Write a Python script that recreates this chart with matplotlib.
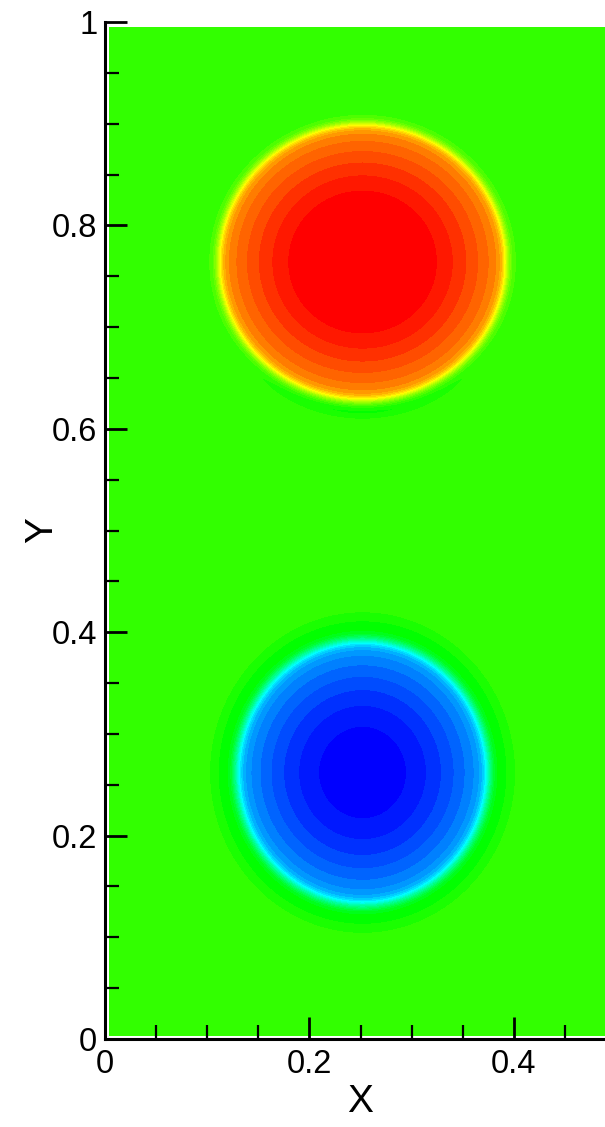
import numpy as np
import matplotlib
matplotlib.use("Agg")
import matplotlib.pyplot as plt
from matplotlib.colors import LinearSegmentedColormap, Normalize
from matplotlib.ticker import MultipleLocator

plt.rcParams['font.family'] = ['Liberation Sans', 'DejaVu Sans']

# Vortex pair parameters (domain units)
background_level = 0.55
vortex_centers = [(0.252, 0.764), (0.252, 0.262)]
vortex_radii = [(0.141, 0.136), (0.125, 0.132)]
vortex_edge_levels = [0.84, 0.18]      # value just inside the rim
vortex_core_gain = [0.20, -0.19]       # change from rim to centre
vortex_edge_width = [0.04, 0.05]
halo_amplitude = [-0.045, -0.04]       # dip just outside the rim
halo_radius = [1.08, 1.10]
halo_width = [0.05, 0.09]
halo_lower_only = [True, False]

x_ticks = [0, 0.2, 0.4]
x_tick_labels = ['0', '0.2', '0.4']
y_ticks = [0, 0.2, 0.4, 0.6, 0.8, 1.0]
y_tick_labels = ['0', '0.2', '0.4', '0.6', '0.8', '1']

# Tecplot-style small rainbow
cmap = LinearSegmentedColormap.from_list(
    'small_rainbow',
    [(0, 0, 1), (0, 1, 1), (0, 1, 0), (1, 1, 0), (1, 0, 0)])

x = np.linspace(0.004, 0.5, 600)
y = np.linspace(0.003, 0.995, 1200)
X, Y = np.meshgrid(x, y)

field = np.full_like(X, background_level)
for (cx, cy), (rx, ry), lev, gain, w, h_amp, h_r, h_w, lower in zip(
        vortex_centers, vortex_radii, vortex_edge_levels, vortex_core_gain,
        vortex_edge_width, halo_amplitude, halo_radius, halo_width,
        halo_lower_only):
    s = np.sqrt(((X - cx) / rx) ** 2 + ((Y - cy) / ry) ** 2)
    edge = 0.5 * (1 - np.tanh((s - 1) / w))
    inner = lev + gain * (1 - s ** 2)
    field += edge * (inner - background_level)
    halo = h_amp * np.exp(-((s - h_r) / h_w) ** 2) * (s > 1)
    if lower:
        halo *= np.clip(-(Y - cy) / (ry * s + 1e-9), 0, 1) ** 4
    field += halo

field = np.clip(field, 0, 1)

levels = np.arange(-0.0125, 1.0126, 0.025)

fig = plt.figure(figsize=(6.05, 11.27), dpi=100)
ax = fig.add_axes([105 / 605, 88 / 1127, 511 / 605, 1017 / 1127])
ax.contourf(X, Y, field, levels=levels, cmap=cmap, norm=Normalize(0, 1))

ax.set_xlim(0, 0.5)
ax.set_ylim(0, 1)
for side in ('top', 'right'):
    ax.spines[side].set_visible(False)
for side in ('left', 'bottom'):
    ax.spines[side].set_linewidth(2.2)

ax.set_xticks(x_ticks)
ax.set_xticklabels(x_tick_labels)
ax.set_yticks(y_ticks)
ax.set_yticklabels(y_tick_labels)
ax.xaxis.set_minor_locator(MultipleLocator(0.05))
ax.yaxis.set_minor_locator(MultipleLocator(0.05))
ax.tick_params(which='major', direction='in', length=16, width=2,
               labelsize=23.5, top=False, right=False)
ax.tick_params(axis='y', which='major', pad=5.5)
ax.tick_params(axis='x', which='major', pad=7)
ax.tick_params(which='minor', direction='in', length=10, width=1.6,
               top=False, right=False)

ax.set_xlabel('X', fontsize=28, va='center')
ax.xaxis.set_label_coords(0.5, (1039 - 1102) / 1017)
ax.set_ylabel('Y', fontsize=28, va='center', ha='center')
ax.yaxis.set_label_coords((42 - 105) / 511, 0.5)

fig.savefig('out.png', dpi=100)
